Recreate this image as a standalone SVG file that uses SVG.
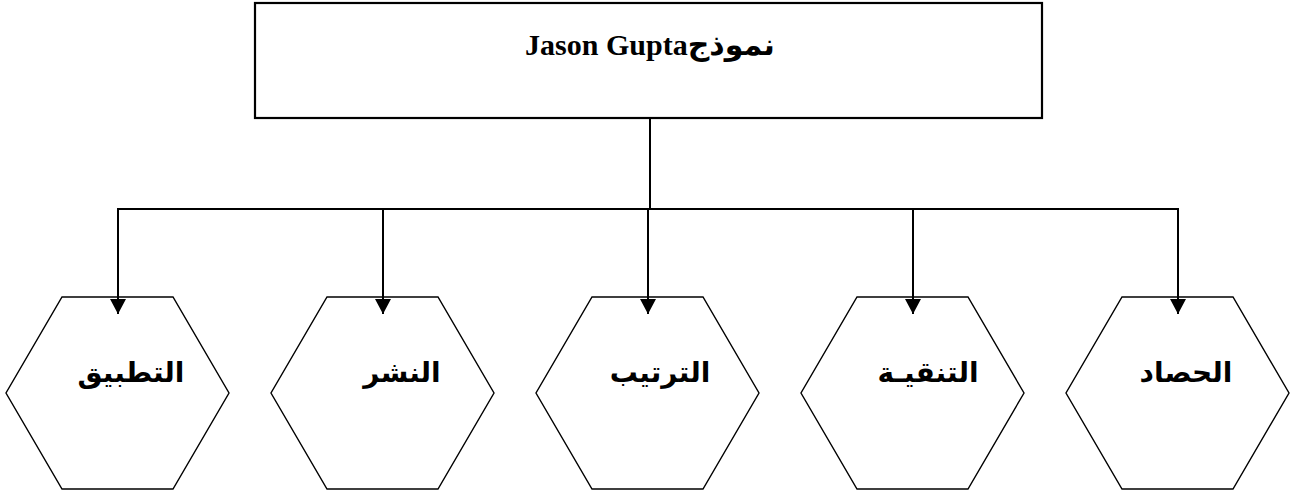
<svg xmlns="http://www.w3.org/2000/svg" width="1290" height="495" viewBox="0 0 1290 495">
  <style>
    .box { fill: #ffffff; stroke: #000000; stroke-width: 2.2; }
    .hex { fill: #ffffff; stroke: #000000; stroke-width: 1.4; }
    .wire { fill: none; stroke: #000000; stroke-width: 2; }
    .title { font-family: "Liberation Serif", "DejaVu Serif", "DejaVu Sans", serif; font-weight: bold; font-size: 30px; fill: #000000; }
    .label { font-family: "Liberation Serif", "DejaVu Sans", serif; font-weight: bold; font-size: 28px; fill: #000000; }
  </style>
  <defs>
    <marker id="arrow" markerUnits="userSpaceOnUse" markerWidth="18" markerHeight="18" refX="15" refY="8" orient="auto">
      <path d="M0,0 L15,8 L0,16 Z" fill="#000000"/>
    </marker>
  </defs>

  <rect width="1290" height="495" fill="#ffffff"/>

  <!-- root box -->
  <g id="node-root">
    <rect class="box" x="255" y="3" width="787" height="115"/>
    <text class="title" x="650" y="55" text-anchor="middle" direction="rtl">نموذجJason Gupta</text>
  </g>

  <!-- stage hexagons -->
  <g id="node-tatbiq">
    <polygon class="hex" points="62,297 173,297 229,393 173,489 62,489 6,393"/>
    <text class="label" x="131" y="382" text-anchor="middle">التطبيق</text>
  </g>
  <g id="node-nashr">
    <polygon class="hex" points="327,297 438,297 494,393 438,489 327,489 271,393"/>
    <text class="label" x="402" y="382" text-anchor="middle">النشر</text>
  </g>
  <g id="node-tartib">
    <polygon class="hex" points="592,297 703,297 759,393 703,489 592,489 536,393"/>
    <text class="label" x="660" y="382" text-anchor="middle">الترتيب</text>
  </g>
  <g id="node-tanqiya">
    <polygon class="hex" points="857,297 968,297 1024,393 968,489 857,489 801,393"/>
    <text class="label" x="928" y="382" text-anchor="middle">التنقيـة</text>
  </g>
  <g id="node-hisad">
    <polygon class="hex" points="1122,297 1233,297 1289,393 1233,489 1122,489 1066,393"/>
    <text class="label" x="1186" y="382" text-anchor="middle">الحصاد</text>
  </g>

  <!-- connectors -->
  <g id="connectors">
    <line class="wire" x1="650" y1="118" x2="650" y2="209"/>
    <line class="wire" x1="117" y1="209" x2="1179" y2="209"/>
    <line class="wire" x1="118" y1="209" x2="118" y2="314" marker-end="url(#arrow)"/>
    <line class="wire" x1="383" y1="209" x2="383" y2="314" marker-end="url(#arrow)"/>
    <line class="wire" x1="648" y1="209" x2="648" y2="314" marker-end="url(#arrow)"/>
    <line class="wire" x1="913" y1="209" x2="913" y2="314" marker-end="url(#arrow)"/>
    <line class="wire" x1="1178" y1="209" x2="1178" y2="314" marker-end="url(#arrow)"/>
  </g>
</svg>
